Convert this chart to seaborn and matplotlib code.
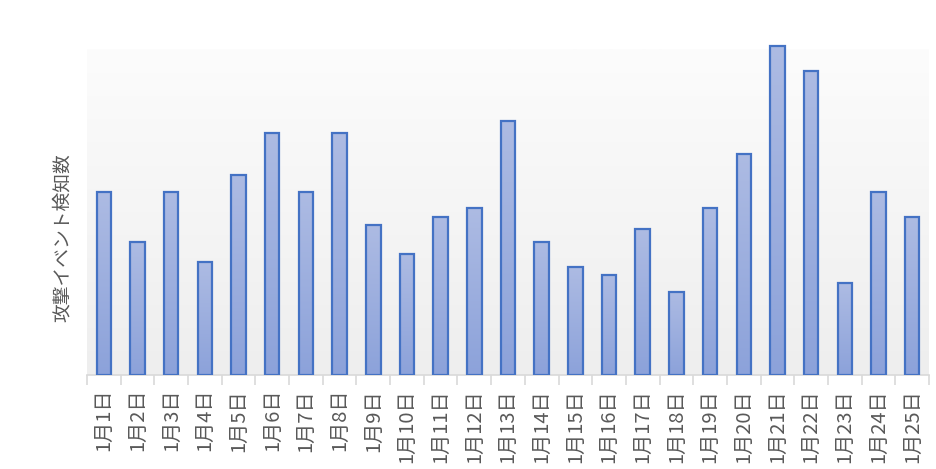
import numpy as np
import pandas as pd
import matplotlib
matplotlib.use("Agg")
import matplotlib.pyplot as plt
import seaborn as sns
from matplotlib.colors import LinearSegmentedColormap

days = [f"1月{i}日" for i in range(1, 26)]
counts = [44, 32, 44, 27, 48, 58, 44, 58, 36, 29, 38, 40, 61, 32, 26, 24, 35, 20, 40, 53, 79, 73, 22, 44, 38]
y_label = "攻撃イベント検知数"

sns.set_theme(style="white")
plt.rcParams['font.family'] = ['Noto Sans CJK JP', 'DejaVu Sans']

df = pd.DataFrame({"day": days, "count": counts})

fig = plt.figure(figsize=(9.37, 4.69), dpi=100)
ax = fig.add_axes([87/937, (469-375)/469, (929-87)/937, (375-44)/469])
ax.set_facecolor("none")

sns.barplot(data=df, x="day", y="count", ax=ax, width=0.43,
            color="#9fb0df", edgecolor="#4472c4", linewidth=1.6, saturation=1)

n = len(days)

# background gradient
bg_top = 78.0
grad = np.linspace(0, 1, 256).reshape(-1, 1)
bg_cmap = LinearSegmentedColormap.from_list("bg", ["#fcfcfc", "#eeeeee"])
ax.imshow(grad, aspect="auto", cmap=bg_cmap, extent=[-0.5, n - 0.5, 0, bg_top],
          origin="upper", zorder=0)

# bar gradient fill
bar_cmap = LinearSegmentedColormap.from_list("bar", ["#adbbe3", "#8ca2da"])
for p in list(ax.patches):
    x0, y0 = p.get_x(), p.get_y()
    w, h = p.get_width(), p.get_height()
    p.set_facecolor("none")
    p.set_zorder(3)
    im = ax.imshow(grad, aspect="auto", cmap=bar_cmap, extent=[x0, x0 + w, y0, y0 + h],
                   origin="upper", zorder=2)
    im.set_clip_path(p)
ax.set_xlim(-0.5, n - 0.5)
ax.set_ylim(0, 79.4)

for s in ["top", "right", "left"]:
    ax.spines[s].set_visible(False)
ax.spines["bottom"].set_color("#d9d9d9")
ax.spines["bottom"].set_linewidth(1.2)

ax.set_yticks([])
ax.set_xticks(range(n))
ax.set_xticklabels(days, rotation=90, fontsize=14.5, color="#595959")
ax.tick_params(axis="x", which="major", length=0, pad=10)
ax.set_xticks(np.arange(-0.5, n, 1.0), minor=True)
ax.tick_params(axis="x", which="minor", length=7, width=1.2, color="#d9d9d9", bottom=True)
ax.set_xlabel("")
ax.set_ylabel("")
fig.text(62/937, 1 - 238/469, y_label, rotation=90, fontsize=13.5, color="#595959",
         ha="center", va="center")

fig.savefig("out.png", dpi=100, facecolor="white")
